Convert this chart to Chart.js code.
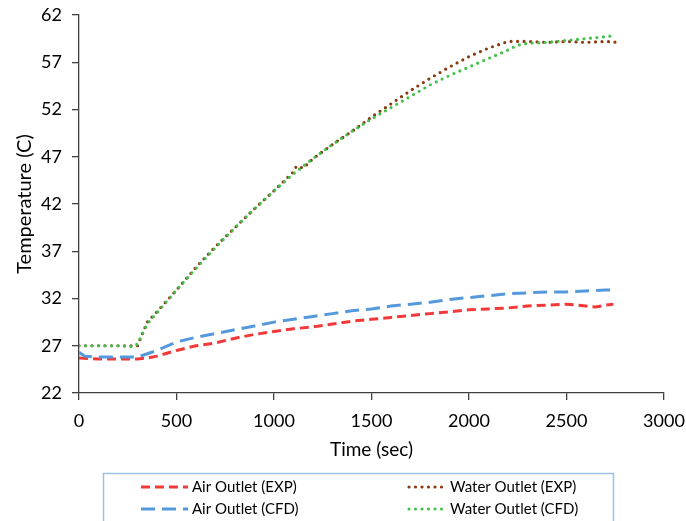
<!DOCTYPE html>
<html>
<head>
<meta charset="utf-8">
<script src="https://cdn.jsdelivr.net/npm/chart.js@4/dist/chart.umd.min.js"></script>
<style>
html,body{margin:0;padding:0;background:#fff;}
#wrap{width:686px;height:521px;position:relative;}
</style>
</head>
<body>
<div id="wrap"><canvas id="c" width="686" height="521"></canvas></div>
<script>
// ---- data ----
const waterExpTime = [0,100,200,300,350,400,500,600,700,800,900,1000,1100,1115,1150,1200,1300,1400,1500,1600,1700,1800,1900,2000,2100,2200,2300,2400,2500,2600,2700,2760];
const waterExpTemp = [27,27,27,27,29.5,30.6,32.9,35.3,37.5,39.5,41.5,43.4,45.4,46.0,45.8,46.8,48.3,49.7,51.2,52.6,54.0,55.3,56.5,57.6,58.5,59.2,59.2,59.1,59.2,59.1,59.2,59.1];

const waterCfdTime = [0,100,200,280,300,350,400,500,600,700,800,900,1000,1100,1200,1300,1400,1500,1600,1700,1800,1900,2000,2100,2200,2250,2300,2400,2500,2600,2700,2740];
const waterCfdTemp = [27,27,27,26.9,27.2,29.3,30.5,32.9,35.2,37.4,39.5,41.5,43.4,45.2,46.8,48.3,49.7,51.0,52.2,53.4,54.6,55.6,56.5,57.4,58.3,58.8,59.0,59.1,59.3,59.5,59.7,59.8];

const airExpTime = [0,100,200,300,350,400,500,600,700,800,900,1000,1100,1200,1300,1400,1500,1600,1700,1800,1900,2000,2100,2200,2300,2400,2500,2600,2650,2700,2740];
const airExpTemp = [25.7,25.6,25.6,25.6,25.7,25.9,26.5,27.0,27.3,27.8,28.2,28.5,28.8,29.0,29.3,29.6,29.8,30.0,30.2,30.4,30.6,30.8,30.9,31.0,31.2,31.3,31.4,31.2,31.1,31.3,31.4];

const airCfdTime = [0,30,100,200,300,400,500,600,700,800,900,1000,1100,1200,1300,1400,1500,1600,1700,1800,1900,2000,2100,2200,2300,2400,2500,2600,2700,2760];
const airCfdTemp = [26.3,25.9,25.8,25.8,25.8,26.5,27.4,27.9,28.3,28.7,29.1,29.5,29.8,30.1,30.4,30.7,30.9,31.2,31.4,31.6,31.9,32.1,32.3,32.5,32.6,32.7,32.7,32.8,32.9,32.9];

const seriesLabels = ['Air Outlet (EXP)','Water Outlet (EXP)','Air Outlet (CFD)','Water Outlet (CFD)'];
const xTitle = 'Time (sec)';
const yTitle = 'Temperature (C)';

function pts(t, v){ return t.map((x,i)=>({x:x, y:v[i]})); }

const FONT = 'Lato, "Liberation Sans", sans-serif';
const AXIS = '#404040';

const datasets = [
  {label: seriesLabels[0], data: pts(airExpTime, airExpTemp), borderColor:'#F2393A', borderWidth:3, borderDash:[9,5], borderCapStyle:'butt'},
  {label: seriesLabels[1], data: pts(waterExpTime, waterExpTemp), borderColor:'#8A3A10', borderWidth:3.2, borderDash:[0,6.5], borderCapStyle:'round'},
  {label: seriesLabels[2], data: pts(airCfdTime, airCfdTemp), borderColor:'#5599DD', borderWidth:3, borderDash:[14,7], borderCapStyle:'butt'},
  {label: seriesLabels[3], data: pts(waterCfdTime, waterCfdTemp), borderColor:'#44C04C', borderWidth:3.2, borderDash:[0,6.5], borderCapStyle:'round'}
];
datasets[0].order = 3; datasets[2].order = 2; datasets[1].order = 1; datasets[3].order = 0;
datasets.forEach(d=>{ d.pointRadius=0; d.tension=0; d.fill=false; });

const legendBox = {
  id:'legendBox',
  afterDraw(chart){
    const ctx = chart.ctx;
    ctx.save();
    ctx.strokeStyle = '#9CC2E5';
    ctx.lineWidth = 1.5;
    ctx.strokeRect(103.5, 473.5, 510, 60);
    const ds = chart.data.datasets;
    const cols = [{x0:141,x1:188,tx:192},{x0:409,x1:446,tx:450}];
    const rows = [487, 509];
    const layout = [[0,0,0],[1,1,0],[2,0,1],[3,1,1]];
    ctx.font = '15px ' + FONT;
    ctx.textBaseline = 'middle';
    ctx.fillStyle = '#000';
    layout.forEach(([i,c,r])=>{
      const d = ds[i];
      const col = cols[c], y = rows[r];
      ctx.beginPath();
      ctx.strokeStyle = d.borderColor;
      ctx.lineWidth = d.borderWidth;
      ctx.lineCap = d.borderCapStyle;
      ctx.setLineDash(d.borderDash);
      ctx.moveTo(col.x0, y); ctx.lineTo(col.x1, y);
      ctx.stroke();
      ctx.setLineDash([]);
      ctx.fillText(d.label, col.tx, y);
    });
    ctx.restore();
  }
};

new Chart(document.getElementById('c'), {
  type:'line',
  data:{datasets},
  options:{
    responsive:false,
    animation:false,
    layout:{padding:{left:9, right:22, top:15, bottom:56}},
    plugins:{legend:{display:false}, tooltip:{enabled:false}},
    scales:{
      x:{
        type:'linear', min:0, max:3000,
        ticks:{stepSize:500, color:'#000', font:{family:FONT, size:18}, padding:10, maxRotation:0,
               callback:(v)=>String(v)},
        grid:{display:true, drawOnChartArea:false, tickLength:7, color:AXIS, lineWidth:1.3},
        border:{color:AXIS, width:1.3},
        title:{display:true, text:xTitle, color:'#000', font:{family:FONT, size:19}, padding:{top:4,bottom:4}},
        afterFit(s){ s.height = 72; s.paddingRight = 0; s.paddingLeft = 0; }
      },
      y:{
        min:22, max:62,
        ticks:{stepSize:5, color:'#000', font:{family:FONT, size:18}, padding:10,
               callback:(v)=>String(v)},
        grid:{display:true, drawOnChartArea:false, tickLength:7, color:AXIS, lineWidth:1.3},
        border:{color:AXIS, width:1.3},
        title:{display:true, text:yTitle, color:'#000', font:{family:FONT, size:20}, padding:{top:4,bottom:4}},
        afterFit(s){ s.width = 70; s.paddingTop = 0; s.paddingBottom = 0; }
      }
    }
  },
  plugins:[legendBox]
});
</script>
</body>
</html>
